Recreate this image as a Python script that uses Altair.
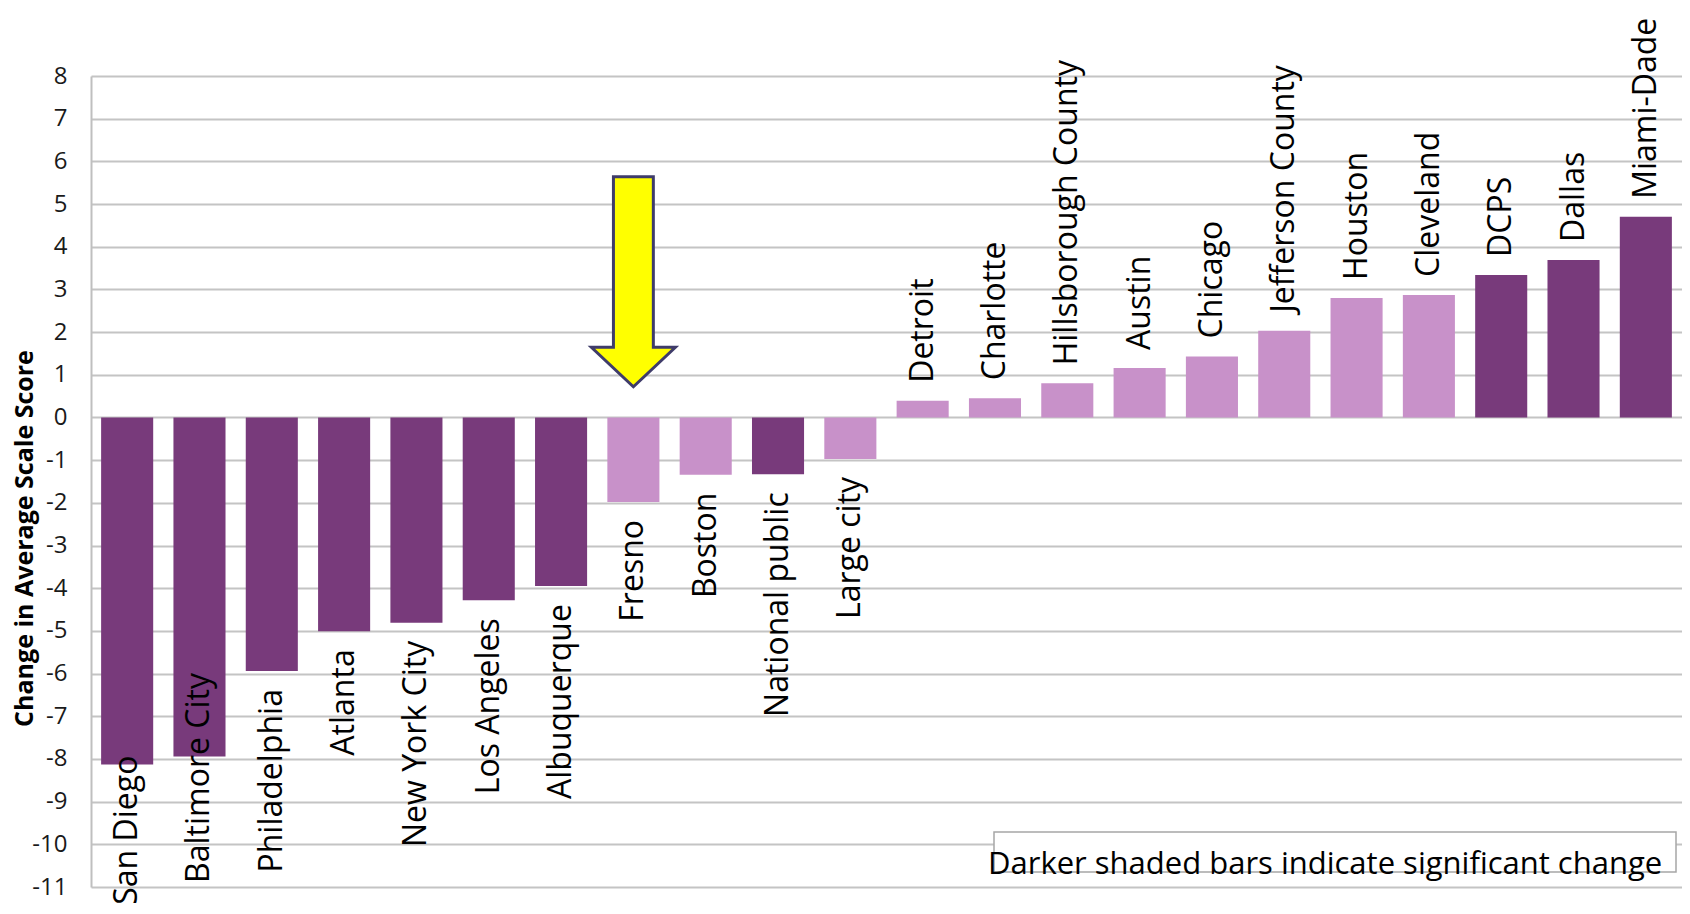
import altair as alt
import pandas as pd

# ---- data ----
cities = [
    "San Diego", "Baltimore City", "Philadelphia", "Atlanta", "New York City",
    "Los Angeles", "Albuquerque", "Fresno", "Boston", "National public",
    "Large city", "Detroit", "Charlotte", "Hillsborough County", "Austin",
    "Chicago", "Jefferson County", "Houston", "Cleveland", "DCPS", "Dallas",
    "Miami-Dade",
]
changes = [
    -8.13, -7.94, -5.94, -5.01, -4.81,
    -4.28, -3.95, -1.98, -1.34, -1.33,
    -0.97, 0.39, 0.45, 0.80, 1.16,
    1.43, 2.03, 2.80, 2.87, 3.34, 3.69,
    4.70,
]
significant = [
    True, True, True, True, True,
    True, True, False, False, True,
    False, False, False, False, False,
    False, False, False, False, True, True,
    True,
]
y_ticks = list(range(-11, 9))
Y_TITLE = "Change in Average Scale Score"
NOTE = "Darker shaded bars indicate significant change"
ARROW_CITY = ["Fresno"]
ARROW_MID = [3.18]

# ---- layout constants ----
W, H = 1591, 811
PXU = H / 19.0          # pixels per score unit
GAP = 18                # px between bar end and its label
CHAR = 16.5             # approx px per label character
FLOOR = -11.40          # lowest value a label may reach (chart bottom)

DARK = "#783A7B"
LIGHT = "#C891C9"
FONT = "Open Sans"

df = pd.DataFrame({
    "city": cities,
    "change": changes,
    "shade": ["dark" if s else "light" for s in significant],
})

xenc = alt.X("city:N", sort=cities,
             scale=alt.Scale(paddingInner=0.28, paddingOuter=0.14), axis=None)
yscale = alt.Scale(domain=[-11, 8], nice=False)
yaxis = alt.Axis(
    values=y_ticks, title=Y_TITLE,
    titleFont=FONT, titleFontSize=25, titleFontWeight="bold", titleColor="black",
    titleX=-67, titleY=462, titleAngle=270, titleAlign="center", titleBaseline="middle",
    labelFont=FONT, labelFontSize=24, labelColor="#1a1a1a", labelPadding=24,
    labelFlush=False, labelOverlap=False, labelExpr="'' + datum.value",
    ticks=False, domainColor="#bfbfbf", domainWidth=2,
    grid=True, gridColor="#c4c4c4", gridWidth=2,
)

bars = alt.Chart(df).mark_bar().encode(
    x=xenc,
    y=alt.Y("change:Q", scale=yscale, axis=yaxis),
    y2=alt.datum(0),
    color=alt.Color("shade:N", scale=alt.Scale(domain=["dark", "light"], range=[DARK, LIGHT]), legend=None),
)

lab_pos = alt.Chart(df).transform_filter("datum.change >= 0").transform_calculate(
    ly=f"datum.change + {GAP / PXU}"
).mark_text(align="left", baseline="middle", angle=270, font=FONT, fontSize=32, color="black").encode(
    x=xenc, y=alt.Y("ly:Q", scale=yscale, axis=yaxis), text="city:N"
)

lab_neg = alt.Chart(df).transform_filter("datum.change < 0").transform_calculate(
    ly=f"max(datum.change - {GAP / PXU}, {FLOOR} + length(datum.city) * {CHAR / PXU})"
).mark_text(align="right", baseline="middle", angle=270, font=FONT, fontSize=32, color="black").encode(
    x=xenc, y=alt.Y("ly:Q", scale=yscale, axis=yaxis), text="city:N"
)

ARROW_PATH = "M -0.19 -1 L 0.19 -1 L 0.19 0.624 L 0.4 0.624 L 0 1 L -0.4 0.624 L -0.19 0.624 Z"
arrow_df = pd.DataFrame({"city": ARROW_CITY, "mid": ARROW_MID})
arrow = alt.Chart(arrow_df).mark_point(
    shape=ARROW_PATH, size=44100, filled=True, fill="#FFFF00", stroke="#3f3c6a",
    strokeWidth=3, opacity=1, strokeJoin="miter",
).encode(x=xenc, y=alt.Y("mid:Q", scale=yscale, axis=yaxis))

note_df = pd.DataFrame({"note": [NOTE]})
box = alt.Chart(note_df).mark_rect(fill="white", stroke="#a6a6a6", strokeWidth=1.5).encode(
    x=alt.value(903), x2=alt.value(1585), y=alt.value(756), y2=alt.value(796)
)
note = alt.Chart(note_df).mark_text(align="left", baseline="alphabetic", font=FONT,
                                    fontSize=31, color="black").encode(
    x=alt.value(897), y=alt.value(798), text="note:N"
)

chart = alt.layer(bars, lab_neg, lab_pos, arrow, box, note).properties(
    width=W, height=H,
    autosize=alt.AutoSizeParams(type="none"),
    padding={"left": 83, "top": 68, "right": 0, "bottom": 19},
    background="white",
).configure_view(strokeWidth=0)

chart.save("out.html", embed_options={"renderer": "svg", "actions": False})
